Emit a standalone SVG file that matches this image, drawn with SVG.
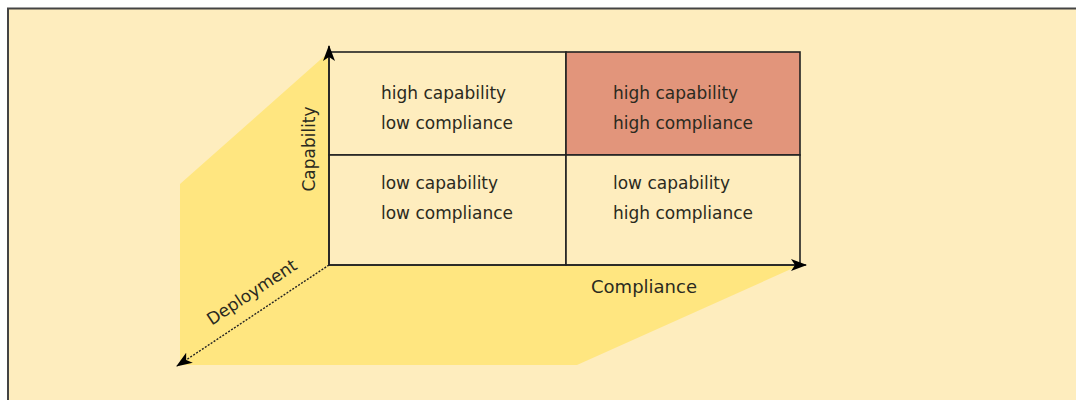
<svg xmlns="http://www.w3.org/2000/svg" width="1076" height="400" viewBox="0 0 1076 400">
<defs>
<style>
.t{font-family:"DejaVu Sans",sans-serif;font-size:17px;fill:#2b2a20}
.ln{stroke:#222;stroke-width:1.6}
.cell{fill:#FEEDBE}
.hl{fill:#E2957B}
</style>
<marker id="ah" viewBox="0 0 16 12" refX="15" refY="6" markerWidth="16" markerHeight="12" markerUnits="userSpaceOnUse" orient="auto">
<path d="M0,0 L16,6 L0,12 L4,6 Z" fill="#000"/>
</marker>
</defs>
<rect x="0" y="0" width="1076" height="400" fill="#fff"/>
<rect x="9" y="9" width="1067" height="391" fill="#FEEDBE"/>
<path d="M8,400 V8.5 H1076" fill="none" stroke="#444" stroke-width="2"/>
<polygon points="329,52 180,184 180,365 577,365 800,265 329,265" fill="#FFE680"/>
<g id="cell-hl">
<rect x="329" y="52" width="237" height="103" class="cell ln"/>
<text class="t" x="381" y="99">high capability</text>
<text class="t" x="381" y="129">low compliance</text>
</g>
<g id="cell-hh">
<rect x="566" y="52" width="234" height="103" class="hl ln"/>
<text class="t" x="613" y="99">high capability</text>
<text class="t" x="613" y="129">high compliance</text>
</g>
<g id="cell-ll">
<rect x="329" y="155" width="237" height="110" class="cell ln"/>
<text class="t" x="381" y="189">low capability</text>
<text class="t" x="381" y="219">low compliance</text>
</g>
<g id="cell-lh">
<rect x="566" y="155" width="234" height="110" class="cell ln"/>
<text class="t" x="613" y="189">low capability</text>
<text class="t" x="613" y="219">high compliance</text>
</g>
<g id="connectors">
<line class="ln" x1="329" y1="265" x2="329" y2="46" marker-end="url(#ah)"/>
<line class="ln" x1="329" y1="265" x2="806" y2="265" marker-end="url(#ah)"/>
<line x1="329" y1="265" x2="177" y2="366" stroke="#222" stroke-width="1.4" stroke-dasharray="2,1.5" marker-end="url(#ah)"/>
</g>
<g id="labels">
<text class="t" x="315" y="149" text-anchor="middle" transform="rotate(-90 315 149)">Capability</text>
<text class="t" x="644" y="293" text-anchor="middle" style="font-size:18px">Compliance</text>
<text class="t" x="255" y="297" text-anchor="middle" transform="rotate(-33.5 255 297)">Deployment</text>
</g>
</svg>
